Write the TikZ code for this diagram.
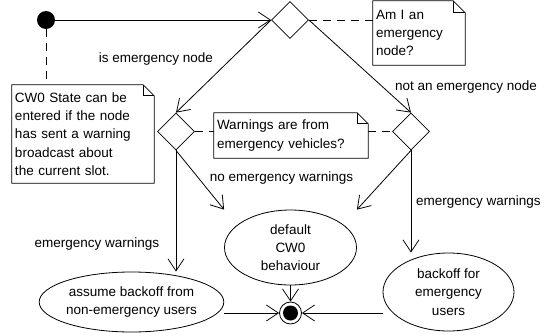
\documentclass[tikz,border=0pt]{standalone}
\usepackage{fontspec}
\setmainfont{Liberation Sans}
\usetikzlibrary{shapes.geometric,arrows.meta}

% outline of a UML note with a folded top-right corner, drawn around node #2
\newcommand\foldbox[2][11pt]{%
  \draw[line width=0.8pt] (#2.south west) -- (#2.north west)
    -- ([xshift=-#1]#2.north east) -- ([yshift=-#1]#2.north east)
    -- (#2.south east) -- cycle;
  \draw[line width=0.8pt] ([xshift=-#1]#2.north east) |- ([yshift=-#1]#2.north east);}

\begin{document}
\begin{tikzpicture}[x=1pt,y=-1pt,
  every node/.style={font=\fontsize{13.5}{18.3}\selectfont},
  flow/.style={draw, line width=0.8pt, -{Straight Barb[length=12pt,width=16pt]}},
  link/.style={draw, line width=0.8pt, dash pattern=on 8pt off 6pt},
  decision/.style={diamond, draw, line width=0.8pt, minimum width=37pt,
    minimum height=37pt, inner sep=0pt},
  activity/.style={ellipse, draw, line width=0.8pt, inner sep=0pt, align=center},
  notebox/.style={rectangle, inner xsep=3pt, inner ysep=0pt, align=left},
  lbl/.style={inner sep=0pt}]

\fill[white] (0,0) rectangle (544,335);
\useasboundingbox (0,0) rectangle (544,335);

% start and end states
\node[circle, fill=black, minimum size=18pt, inner sep=0pt] (init) at (46,20) {};
\node[circle, draw, line width=0.8pt, minimum size=22pt, inner sep=0pt] (final) at (290.5,313) {};
\node[circle, fill=black, minimum size=15pt, inner sep=0pt] (finaldot) at (final.center) {};

% decisions
\node[decision] (d0) at (290,20) {};
\node[decision] (d1) at (176,131.5) {};
\node[decision] (d2) at (411,131.5) {};

% activities
\node[activity, minimum width=132pt, minimum height=75pt] (default) at (290.5,247.5)
  {default\\CW0\\behaviour};
\node[activity, minimum width=173pt, minimum height=60pt] (assume) at (131.5,302)
  {assume backoff from\\non-emergency users};
\node[activity, minimum width=131pt, minimum height=78pt] (backoff) at (448.5,292)
  {backoff for\\emergency\\users};

% notes
\node[notebox, minimum width=92pt, minimum height=64pt, text width=86pt] (qnode) at (419,33)
  {Am I an\\emergency\\node?};
\foldbox[12pt]{qnode}
\node[notebox, minimum width=142pt, minimum height=98pt, text width=136pt] (cwnote) at (83,134)
  {CW0 State can be\\entered if the node\\has sent a warning\\broadcast about\\the current slot.};
\foldbox{cwnote}
\node[notebox, minimum width=154pt, minimum height=45pt, text width=148pt] (wnote) at (291,135.5)
  {Warnings are from\\emergency vehicles?};
\foldbox{wnote}

% note attachments
\draw[link] (init.south) -- (init.south |- cwnote.north);
\draw[link] (d0.east) -- (d0.east -| qnode.west);
\draw[link] (d1.east) -- (d1.east -| wnote.west);
\draw[link] (wnote.east |- d2.west) -- (d2.west);

% control flow
\draw[flow] (init) -- (d0.west);
\draw[flow] (d0.west) -- (d1.north);
\draw[flow] (d0.east) -- (d2.north);
\draw[flow] (d1.south) -- (d1.south |- assume.north);
\draw[flow] (d1.south) -- (default.west |- default.north);
\draw[flow] (d2.south) -- (default.east |- default.north);
\draw[flow] (d2.south) -- (d2.south |- backoff.north);
\draw[flow] (default.south) -- (final.north);
\draw[flow] (assume.east |- final.center) -- (final.west);
\draw[flow] (backoff.west |- final.center) -- (final.east);

% guard labels
\node[lbl] (l1) at (156,59) {is emergency node};
\node[lbl] (l2) at (466,87) {not an emergency node};
\node[lbl] (l3) at (281.5,178) {no emergency warnings};
\node[lbl] (l4) at (97,244) {emergency warnings};
\node[lbl] (l5) at (478.5,202) {emergency warnings};
\end{tikzpicture}
\end{document}
